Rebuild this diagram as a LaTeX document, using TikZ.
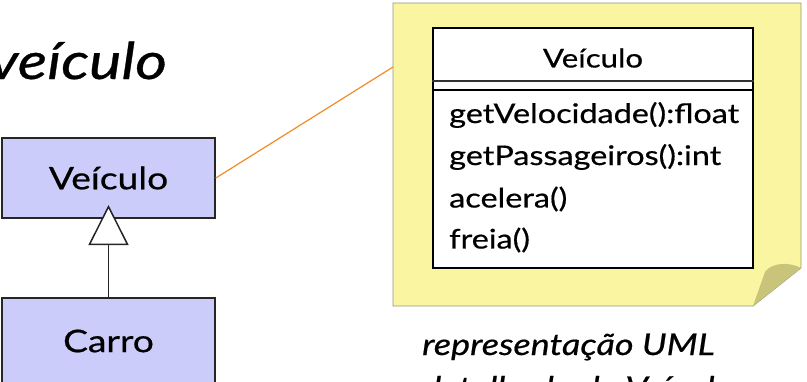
\documentclass[tikz,border=0pt]{standalone}
\usepackage{fontspec}
\setmainfont[FakeStretch=1.2,FakeBold=0.6]{Lato}
\usetikzlibrary{arrows.meta}
\definecolor{lav}{RGB}{204,204,250}
\definecolor{noteyellow}{RGB}{250,245,160}
\definecolor{notefold}{RGB}{200,196,122}
\definecolor{noteborder}{RGB}{150,150,120}
\definecolor{linkorange}{RGB}{240,140,40}
\begin{document}
\begin{tikzpicture}[x=1pt,y=-1pt,
  clsbox/.style={draw=black!85, line width=1.6pt, fill=lav, minimum width=213pt, inner sep=0pt, font=\fontsize{31}{36}\selectfont},
  umltext/.style={anchor=west, inner sep=0pt, font=\fontsize{27}{32}\selectfont},
  italtext/.style={inner sep=0pt, font=\itshape}
]
\useasboundingbox (0,0) rectangle (807,381);
\clip (0,0) rectangle (807,381);
% title
\node[italtext, anchor=base west, font=\itshape\fontsize{51}{60}\selectfont] (title) at (-11,79) {veículo};
% classes
\node[clsbox, minimum height=80pt] (veh) at (108.5,178) {Veículo};
\node[clsbox, minimum height=86pt] (car) at (108.5,341) {Carro};
\coordinate (apex) at (car.north |- 0,205);
\draw[line width=1.5pt, black!85, -{Triangle[open,fill=white,length=40pt,width=40pt]}] (car.north) -- (apex);
% note
\path[fill=noteyellow, draw=noteborder, line width=0.8pt] (393,3) coordinate (ntl) -- (801,3) -- (801,268) coordinate (nfr) -- (753,306) coordinate (nfb) -- (393,306) -- cycle;
\path[fill=notefold] (nfr) .. controls (790,262) and (772,262) .. (765,272) coordinate (nfv) -- (nfb) -- cycle;
\coordinate (nlink) at (393,67);
\draw[linkorange, line width=1.2pt] (veh.east) -- (nlink);
% UML class inside note
\node[draw=black, line width=1.5pt, fill=white, minimum width=320pt, minimum height=240pt, inner sep=0pt] (cls) at (593,148) {};
\draw[black!80, line width=1.5pt] (cls.west |- 0,81) -- (cls.east |- 0,81);
\draw[black, line width=1.5pt] (cls.west |- 0,90) -- (cls.east |- 0,90);
\node[inner sep=0pt, font=\fontsize{26}{30}\selectfont] (clsname) at (593,58) {Veículo};
\node[umltext] (m1) at (449,115) {getVelocidade():float};
\node[umltext] (m2) at (449,157) {getPassageiros():int};
\node[umltext] (m3) at (449,199) {acelera()};
\node[umltext] (m4) at (449,240) {freia()};
% caption
\node[italtext, anchor=base west, font=\itshape\fontsize{30}{36}\selectfont] (cap1) at (422,355) {representação UML};
\node[italtext, anchor=base west, font=\itshape\fontsize{30}{36}\selectfont] (cap2) at (422,398) {detalhada de Veículo};
\end{tikzpicture}
\end{document}
